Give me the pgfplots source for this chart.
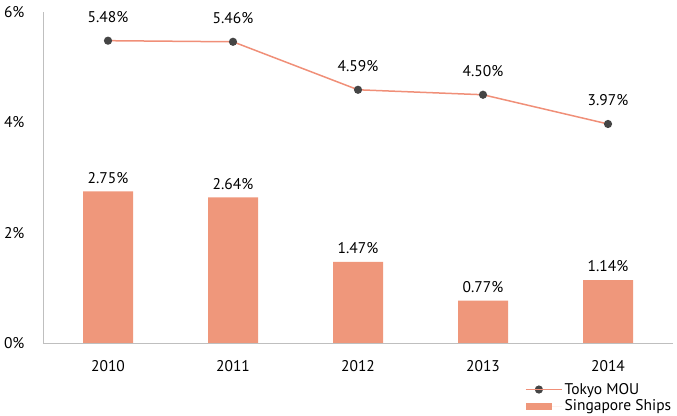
\documentclass[border=0pt]{standalone}
\usepackage{fontspec}
\setmainfont{PT Sans}
\usepackage{pgfplots}
\pgfplotsset{compat=1.18}
\definecolor{barc}{HTML}{EF977B}
\definecolor{linec}{HTML}{F08F78}
\definecolor{markc}{HTML}{454545}
\definecolor{axisgray}{HTML}{BFBFBF}
\begin{document}
\begin{tikzpicture}[x=1pt,y=1pt]
\useasboundingbox (0,0) rectangle (677,415);
\begin{axis}[
  at={(43pt,72pt)}, anchor=south west,
  scale only axis, width=630pt, height=331pt,
  xmin=-0.52, xmax=4.52, ymin=0, ymax=6,
  xtick={0,...,4}, xticklabels={2010,2011,2012,2013,2014},
  ytick={0,2,4,6}, yticklabel={\pgfmathprintnumber{\tick}\%},
  axis x line*=bottom, axis y line*=left,
  axis line style={draw=axisgray, line width=0.9pt},
  major tick length=0pt,
  /pgf/number format/assume math mode=true,
  font=\fontsize{15.5}{17}\selectfont,
  yticklabel style={xshift=-15pt},
  xticklabel style={yshift=-14pt},
  legend style={draw=none, fill=none, at={(0.765,-0.115)}, anchor=north west,
    font=\fontsize{15.5}{16}\selectfont, row sep=0pt, inner sep=0pt,
    column sep=0pt},
  legend cell align=left,
  reverse legend,
]
\addplot[ybar, bar width=50pt, fill=barc, draw=none,
  legend image code/.code={\fill[barc] (0pt,-3.5pt) rectangle (26pt,3.5pt); \path (0pt,0) -- (36pt,0);},
  nodes near coords={\pgfmathprintnumber[fixed,precision=2,fixed zerofill]{\pgfplotspointmeta}\%},
  every node near coord/.append style={font=\fontsize{15.5}{17}\selectfont, text=black, yshift=4.5pt}]
  coordinates {(0,2.75) (1,2.64) (2,1.47) (3,0.77) (4,1.14)};
\addlegendentry{Singapore Ships}
\addplot[linec, line width=1.5pt, mark=*, mark size=3.3pt,
  mark options={fill=markc, draw=markc},
  legend image code/.code={\draw[linec, line width=1.2pt] (0pt,0) -- (26pt,0);
    \fill[markc] (13pt,0) circle (3.3pt); \path (0pt,0) -- (36pt,0);},
  nodes near coords={\pgfmathprintnumber[fixed,precision=2,fixed zerofill]{\pgfplotspointmeta}\%},
  every node near coord/.append style={font=\fontsize{15.5}{17}\selectfont, text=black, yshift=14pt}]
  coordinates {(0,5.48) (1,5.46) (2,4.59) (3,4.50) (4,3.97)};
\addlegendentry{Tokyo MOU}
\end{axis}
\end{tikzpicture}
\end{document}
